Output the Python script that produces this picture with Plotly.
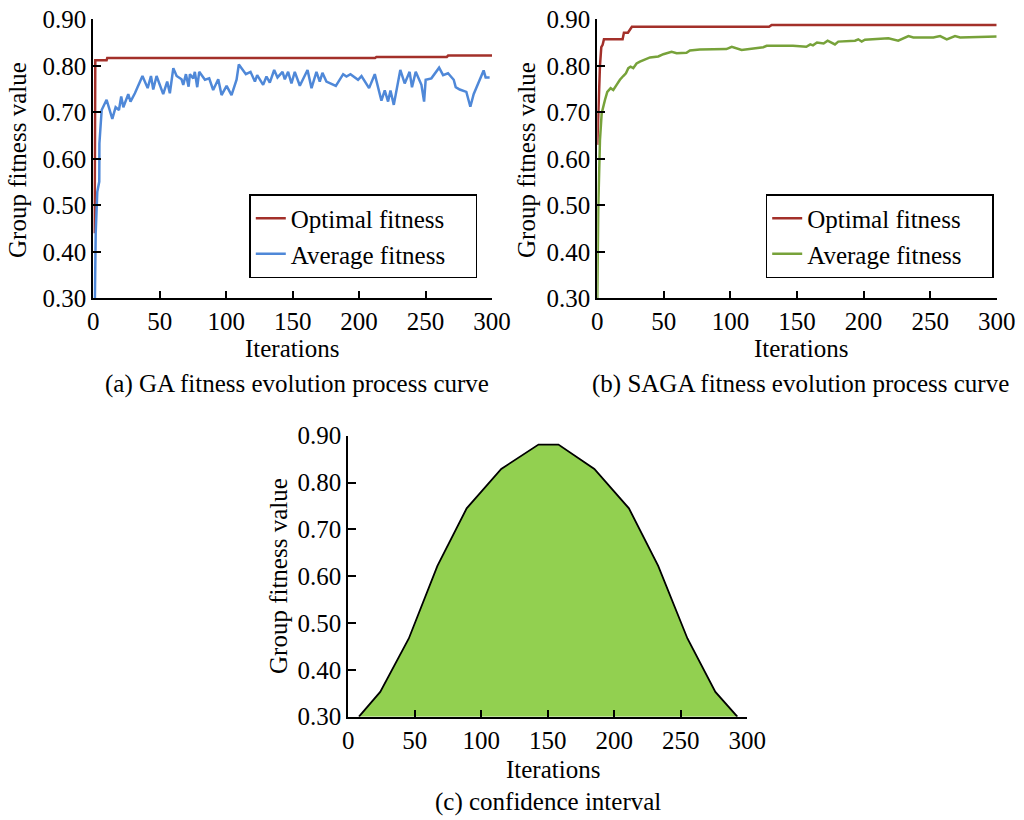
import plotly.graph_objects as go

# ---------------- data ----------------
ga_opt_x = [1, 1.5, 10, 10.5, 212, 213, 266, 267, 300]
ga_opt_y = [0.44, 0.812, 0.812, 0.817, 0.817, 0.819, 0.819, 0.822, 0.822]

ga_avg_x = [1.2, 1.8, 3, 4.5, 4.6, 6.3, 10, 14.3, 16.8, 19.3, 21, 22.6, 26.3, 28, 31.3, 37, 40.9, 43.4,
            45.1, 47.6, 52.6, 55.6, 57.6, 60.2, 62.7, 66.4, 67.7, 69.7, 71.7, 72.7, 75.2, 76.4, 78.2,
            79.7, 84, 87.2, 90.2, 94, 96.5, 100.3, 104, 107.8, 109.5, 114.8, 118.3, 121.6, 123.3,
            127.8, 130.3, 132.8, 136.1, 138.6, 142.4, 144.1, 146.6, 149.1, 151.6, 155.4, 161.2,
            164.2, 167.9, 170.4, 172.4, 175.4, 182.5, 188, 190.5, 193.5, 199.2, 201.8, 207.5, 211.8,
            216.8, 219.3, 221.8, 223.6, 226.1, 231, 234.3, 238, 239.8, 242.6, 246.9, 248.9, 250.1,
            254.4, 260.2, 263.2, 266.9, 271.2, 272.7, 275.7, 280.7, 283.7, 286.2, 293.7, 295.2, 298.2]
ga_avg_y = [0.30, 0.44, 0.529, 0.551, 0.633, 0.705, 0.727, 0.686, 0.711, 0.705, 0.734, 0.711, 0.739,
            0.723, 0.741, 0.778, 0.752, 0.778, 0.749, 0.778, 0.739, 0.766, 0.741, 0.795, 0.778, 0.771,
            0.759, 0.782, 0.755, 0.782, 0.773, 0.787, 0.754, 0.787, 0.770, 0.773, 0.748, 0.771, 0.737,
            0.757, 0.737, 0.770, 0.803, 0.782, 0.787, 0.766, 0.780, 0.759, 0.777, 0.764, 0.791, 0.775,
            0.787, 0.771, 0.787, 0.762, 0.787, 0.757, 0.791, 0.752, 0.787, 0.766, 0.785, 0.766, 0.757,
            0.782, 0.777, 0.782, 0.770, 0.778, 0.752, 0.782, 0.725, 0.747, 0.723, 0.747, 0.716, 0.791,
            0.762, 0.787, 0.754, 0.787, 0.759, 0.723, 0.770, 0.773, 0.796, 0.780, 0.784, 0.770, 0.754,
            0.749, 0.744, 0.712, 0.739, 0.790, 0.775, 0.775]

saga_opt_x = [0, 1, 2, 3, 4, 5, 19, 20, 23, 26, 129, 131, 300]
saga_opt_y = [0.63, 0.735, 0.80, 0.84, 0.845, 0.857, 0.857, 0.871, 0.871, 0.884, 0.884, 0.888, 0.888]

saga_avg_x = [0, 0.75, 2, 3.3, 5.8, 7.5, 10, 12, 14.5, 17, 19.5, 21.5, 23.3, 25, 27, 29.5, 32, 35.8,
              39.6, 45.8, 49.6, 55.8, 59.6, 67, 69.6, 77, 87, 97, 101, 108.4, 124.7, 127.2, 147, 157,
              160, 162, 165, 170, 173, 178.5, 181, 193.6, 196, 198.6, 201, 218.6, 226, 233.7, 237.4,
              252.4, 257.5, 262.5, 268.7, 272.5, 300]
saga_avg_y = [0.30, 0.497, 0.64, 0.698, 0.727, 0.744, 0.752, 0.748, 0.759, 0.770, 0.778, 0.784, 0.795,
              0.798, 0.795, 0.805, 0.809, 0.814, 0.818, 0.820, 0.825, 0.830, 0.827, 0.828, 0.833, 0.835,
              0.835, 0.836, 0.841, 0.834, 0.840, 0.843, 0.843, 0.841, 0.846, 0.844, 0.850, 0.848, 0.854,
              0.846, 0.852, 0.854, 0.857, 0.852, 0.856, 0.859, 0.854, 0.864, 0.861, 0.861, 0.864, 0.857,
              0.864, 0.861, 0.863]

ci_x = [8, 24, 45.5, 67, 89, 115, 143, 158, 185, 211, 233, 255, 276, 292.5]
ci_y = [0.30, 0.353, 0.467, 0.622, 0.745, 0.829, 0.881, 0.881, 0.829, 0.745, 0.622, 0.467, 0.353, 0.30]

x_ticks = [0, 50, 100, 150, 200, 250, 300]
y_ticks = [0.30, 0.40, 0.50, 0.60, 0.70, 0.80, 0.90]

# ---------------- styles ----------------
W, H = 1024, 820
FONT = "Liberation Serif"
FS = 25
RED = "#a3302a"
BLUE = "#4f88d8"
GREEN = "#77a23a"
FILL = "#92d050"
PAD = "\u00a0" * 4  # right padding inside the legend box

fig = go.Figure()
fig.add_trace(go.Scatter(x=ga_opt_x, y=ga_opt_y, mode="lines", name="Optimal fitness" + PAD,
                         line=dict(color=RED, width=2.5), xaxis="x", yaxis="y", legend="legend"))
fig.add_trace(go.Scatter(x=ga_avg_x, y=ga_avg_y, mode="lines", name="Average fitness" + PAD,
                         line=dict(color=BLUE, width=2.5), xaxis="x", yaxis="y", legend="legend"))
fig.add_trace(go.Scatter(x=saga_opt_x, y=saga_opt_y, mode="lines", name="Optimal fitness" + PAD,
                         line=dict(color=RED, width=2.5), xaxis="x2", yaxis="y2", legend="legend2"))
fig.add_trace(go.Scatter(x=saga_avg_x, y=saga_avg_y, mode="lines", name="Average fitness" + PAD,
                         line=dict(color=GREEN, width=2.5), xaxis="x2", yaxis="y2", legend="legend2"))
fig.add_trace(go.Scatter(x=ci_x, y=ci_y, mode="lines", fill="toself", fillcolor=FILL,
                         line=dict(color="black", width=1.8), xaxis="x3", yaxis="y3", showlegend=False))

def px_x(p):
    return p / W

def px_y(p):
    return 1 - p / H

common_x = dict(range=[0, 300], tickvals=x_ticks, ticks="inside", ticklen=7, tickwidth=1.5,
                tickcolor="black", showline=True, linecolor="black", linewidth=2, showgrid=False,
                zeroline=False, automargin=False, tickfont=dict(family=FONT, size=FS, color="black"))
common_y = dict(range=[0.3, 0.9], tickvals=y_ticks, tickformat=".2f", ticks="inside", ticklen=8,
                tickwidth=1.5, tickcolor="black", showline=True, linecolor="black", linewidth=2,
                showgrid=False, zeroline=False, automargin=False,
                tickfont=dict(family=FONT, size=FS, color="black"))

legend_style = dict(xanchor="left", yanchor="top", bgcolor="white", bordercolor="black",
                    borderwidth=1.5, font=dict(family=FONT, size=FS, color="black"),
                    tracegroupgap=0)

top_dom = [px_y(298.3), px_y(19.3)]
fig.update_layout(
    template="none",
    width=W, height=H, margin=dict(l=0, r=0, t=0, b=0, pad=0, autoexpand=False),
    paper_bgcolor="white", plot_bgcolor="white",
    font=dict(family=FONT, size=FS, color="black"),
    xaxis=dict(domain=[px_x(93.3), px_x(492)], anchor="y", **common_x),
    yaxis=dict(domain=top_dom, anchor="x", **common_y),
    xaxis2=dict(domain=[px_x(597.3), px_x(996.7)], anchor="y2", **common_x),
    yaxis2=dict(domain=top_dom, anchor="x2", **common_y),
    xaxis3=dict(domain=[px_x(348.3), px_x(747.3)], anchor="y3", **common_x),
    yaxis3=dict(domain=[px_y(716.7), px_y(435.7)], anchor="x3", **common_y),
    legend=dict(x=px_x(249.3), y=px_y(194), **legend_style),
    legend2=dict(x=px_x(765.7), y=px_y(194), **legend_style),
)

def ann(text, x, y, angle=0):
    fig.add_annotation(text=text, x=px_x(x), y=px_y(y), xref="paper", yref="paper",
                       showarrow=False, textangle=angle, xanchor="center", yanchor="middle",
                       font=dict(family=FONT, size=FS, color="black"))

ann("Group fitness value", 18, 160, -90)
ann("Group fitness value", 527, 160, -90)
ann("Group fitness value", 278, 576, -90)
ann("Iterations", 292, 349)
ann("Iterations", 801, 349)
ann("Iterations", 553, 769)
ann("(a) GA fitness evolution process curve", 297, 384)
ann("(b) SAGA fitness evolution process curve", 800, 384)
ann("(c) confidence interval", 548, 802)

fig.write_html("out.html")
